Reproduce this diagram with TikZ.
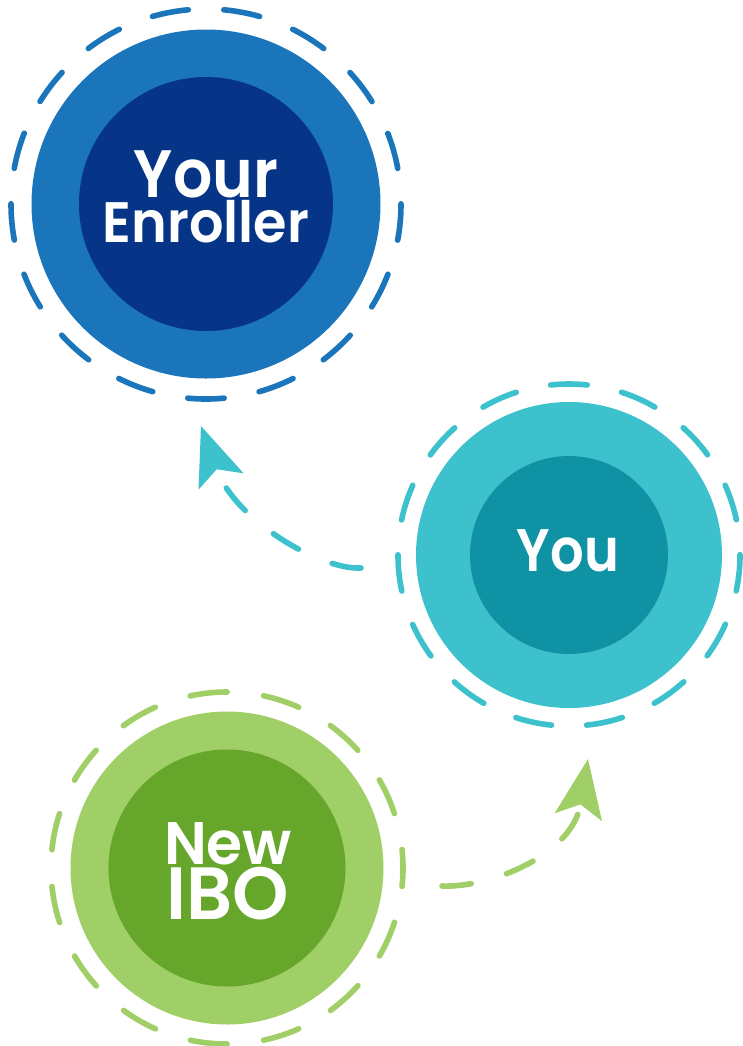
\documentclass[tikz,border=0pt]{standalone}
\usepackage{fontspec}
\newfontfamily\lblfont{Poppins SemiBold}
\usetikzlibrary{arrows.meta}
\definecolor{enrollerlight}{RGB}{27,117,187}
\definecolor{enrollerdark}{RGB}{6,53,136}
\definecolor{youlight}{RGB}{61,193,204}
\definecolor{youdark}{RGB}{16,146,165}
\definecolor{ibolight}{RGB}{160,206,103}
\definecolor{ibodark}{RGB}{102,166,42}

\begin{document}
\begin{tikzpicture}[x=0.5pt, y=-0.5pt,
    outer/.style = {circle, inner sep=0pt},
    core/.style = {circle, inner sep=0pt},
    lbl/.style = {text=white, font=\lblfont, align=center, inner sep=0pt},
    ring/.style = {line width=2.8pt, line cap=round},
    link/.style = {line width=2.8pt, line cap=round, dash pattern=on 14.7pt off 18.3pt,
        -{Stealth[length=29.5pt, width=24pt, inset=6.5pt, line width=0pt]}}]
    \useasboundingbox (0,0) rectangle (743,1046);
    % your enroller
    \node[outer, fill=enrollerlight, minimum size=174.5pt] (enroller) at (206,204) {};
    \node[core, fill=enrollerdark, minimum size=127pt] (enroller core) at (enroller) {};
    \draw[ring, enrollerlight, dash pattern=on 18.25pt off 17.79pt, dash phase=9.1pt]
        ([shift={(90:195)}]enroller.center) arc[start angle=90, end angle=450, radius=195];
    \node[lbl] (enroller text) at (206,197)
        {\addfontfeature{FakeStretch=0.92}\fontsize{33.5}{26.5}\selectfont Your\\
         \addfontfeature{FakeStretch=0.95}\fontsize{28.5}{26.5}\selectfont Enroller};
    % you
    \node[outer, fill=youlight, minimum size=153pt] (you) at (569,555) {};
    \node[core, fill=youdark, minimum size=99pt] (you core) at (you) {};
    \draw[ring, youlight, dash pattern=on 18.25pt off 17.56pt, dash phase=9.1pt]
        ([shift={(270:171)}]you.center) arc[start angle=270, end angle=630, radius=171];
    \node[lbl] (you text) at (568,551)
        {\addfontfeature{FakeStretch=0.88}\fontsize{30}{30}\selectfont You};
    % new ibo
    \node[outer, fill=ibolight, minimum size=156.5pt] (ibo) at (227,868) {};
    \node[core, fill=ibodark, minimum size=118.5pt] (ibo core) at (ibo) {};
    \draw[ring, ibolight, dash pattern=on 18.5pt off 18.36pt, dash phase=9.25pt]
        ([shift={(264:176)}]ibo.center) arc[start angle=264, end angle=624, radius=176];
    \node[lbl] (ibo text) at (228,871.5)
        {\addfontfeature{FakeStretch=0.97}\fontsize{30}{32.5}\selectfont New\\
         \addfontfeature{FakeStretch=0.97}\fontsize{37}{32.5}\selectfont IBO};
    % links
    \coordinate (you out) at (361,568);
    \coordinate (enroller in) at (201,426);
    \coordinate (ibo out) at (442,886);
    \coordinate (you in) at (588,759);
    \draw[link, youlight] (you out) .. controls (320,570) and (235,520) .. (enroller in);
    \draw[link, ibolight] (ibo out) .. controls (490,888) and (572,855) .. (you in);
\end{tikzpicture}
\end{document}
